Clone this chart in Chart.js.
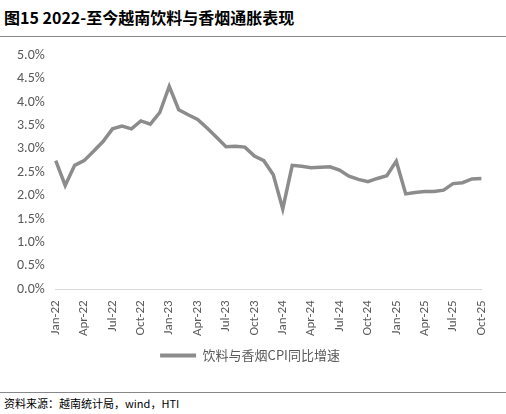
<!DOCTYPE html>
<html><head><meta charset="utf-8">
<script src="https://cdn.jsdelivr.net/npm/chart.js@4/dist/chart.umd.min.js"></script>
<style>
body{margin:0;width:506px;height:414px;background:#fff;font-family:"Noto Sans CJK SC",sans-serif;position:relative;overflow:hidden}
#t{position:absolute;left:4px;top:5px;font-size:16px;font-weight:bold;color:#000}
#l1{position:absolute;left:0;top:36px;width:506px;height:1px;background:#888}
#l2{position:absolute;left:0;top:392px;width:506px;height:1px;background:#888}
#s{position:absolute;left:4px;top:395px;font-size:11px;color:#000}
#w{position:absolute;left:0;top:44px;width:500px;height:328px}
</style></head><body>
<div id="t">图15 2022-至今越南饮料与香烟通胀表现</div><div id="l1"></div>
<div id="w"><canvas id="c"></canvas></div>
<div id="l2"></div><div id="s">资料来源：越南统计局，wind，HTI</div>
<script>
const months=["Jan","Feb","Mar","Apr","May","Jun","Jul","Aug","Sep","Oct","Nov","Dec"];
const categories=[];
for(let y=22;y<=25;y++)for(let m=0;m<12;m++){if(y===25&&m>9)break;categories.push(months[m]+"-"+y);}
const seriesName="饮料与香烟CPI同比增速";
const values=[2.75,2.22,2.65,2.75,2.95,3.16,3.43,3.49,3.43,3.60,3.53,3.78,4.34,3.84,3.73,3.63,3.45,3.25,3.05,3.06,3.04,2.85,2.75,2.45,1.72,2.65,2.63,2.60,2.61,2.62,2.55,2.42,2.35,2.30,2.37,2.43,2.74,2.04,2.07,2.09,2.09,2.12,2.26,2.28,2.36,2.37];
const yTicks=[0,0.5,1,1.5,2,2.5,3,3.5,4,4.5,5];
new Chart(document.getElementById('c'),{type:'line',
data:{labels:categories,datasets:[{label:seriesName,data:values,borderColor:'#8c8c8c',backgroundColor:'#8c8c8c',borderWidth:3.5,pointRadius:0,tension:0}]},
options:{responsive:true,maintainAspectRatio:false,animation:false,
layout:{padding:{left:14,right:14,top:10}},
plugins:{legend:{position:'bottom',labels:{boxWidth:36,boxHeight:0,color:'#595959',font:{size:13,family:'"Noto Sans CJK SC"'},generateLabels:(ch)=>[{text:seriesName,strokeStyle:'#8c8c8c',lineWidth:4,fillStyle:'#8c8c8c',fontColor:'#595959'}]}},tooltip:{enabled:false}},
scales:{x:{grid:{display:false,drawTicks:true,tickColor:'#d9d9d9'},border:{color:'#d9d9d9'},
ticks:{autoSkip:false,maxRotation:90,minRotation:90,color:'#595959',font:{size:13,family:'Carlito,Calibri,"Liberation Sans"'},callback:(v,i)=>i%3===0?categories[i]:''}},
y:{min:0,max:5,afterBuildTicks:a=>{a.ticks=yTicks.map(v=>({value:v}))},grid:{display:false},border:{display:false},
ticks:{color:'#595959',font:{size:14,family:'Carlito,Calibri,"Liberation Sans"'},callback:v=>v.toFixed(1)+'%'}}}}});
</script></body></html>
